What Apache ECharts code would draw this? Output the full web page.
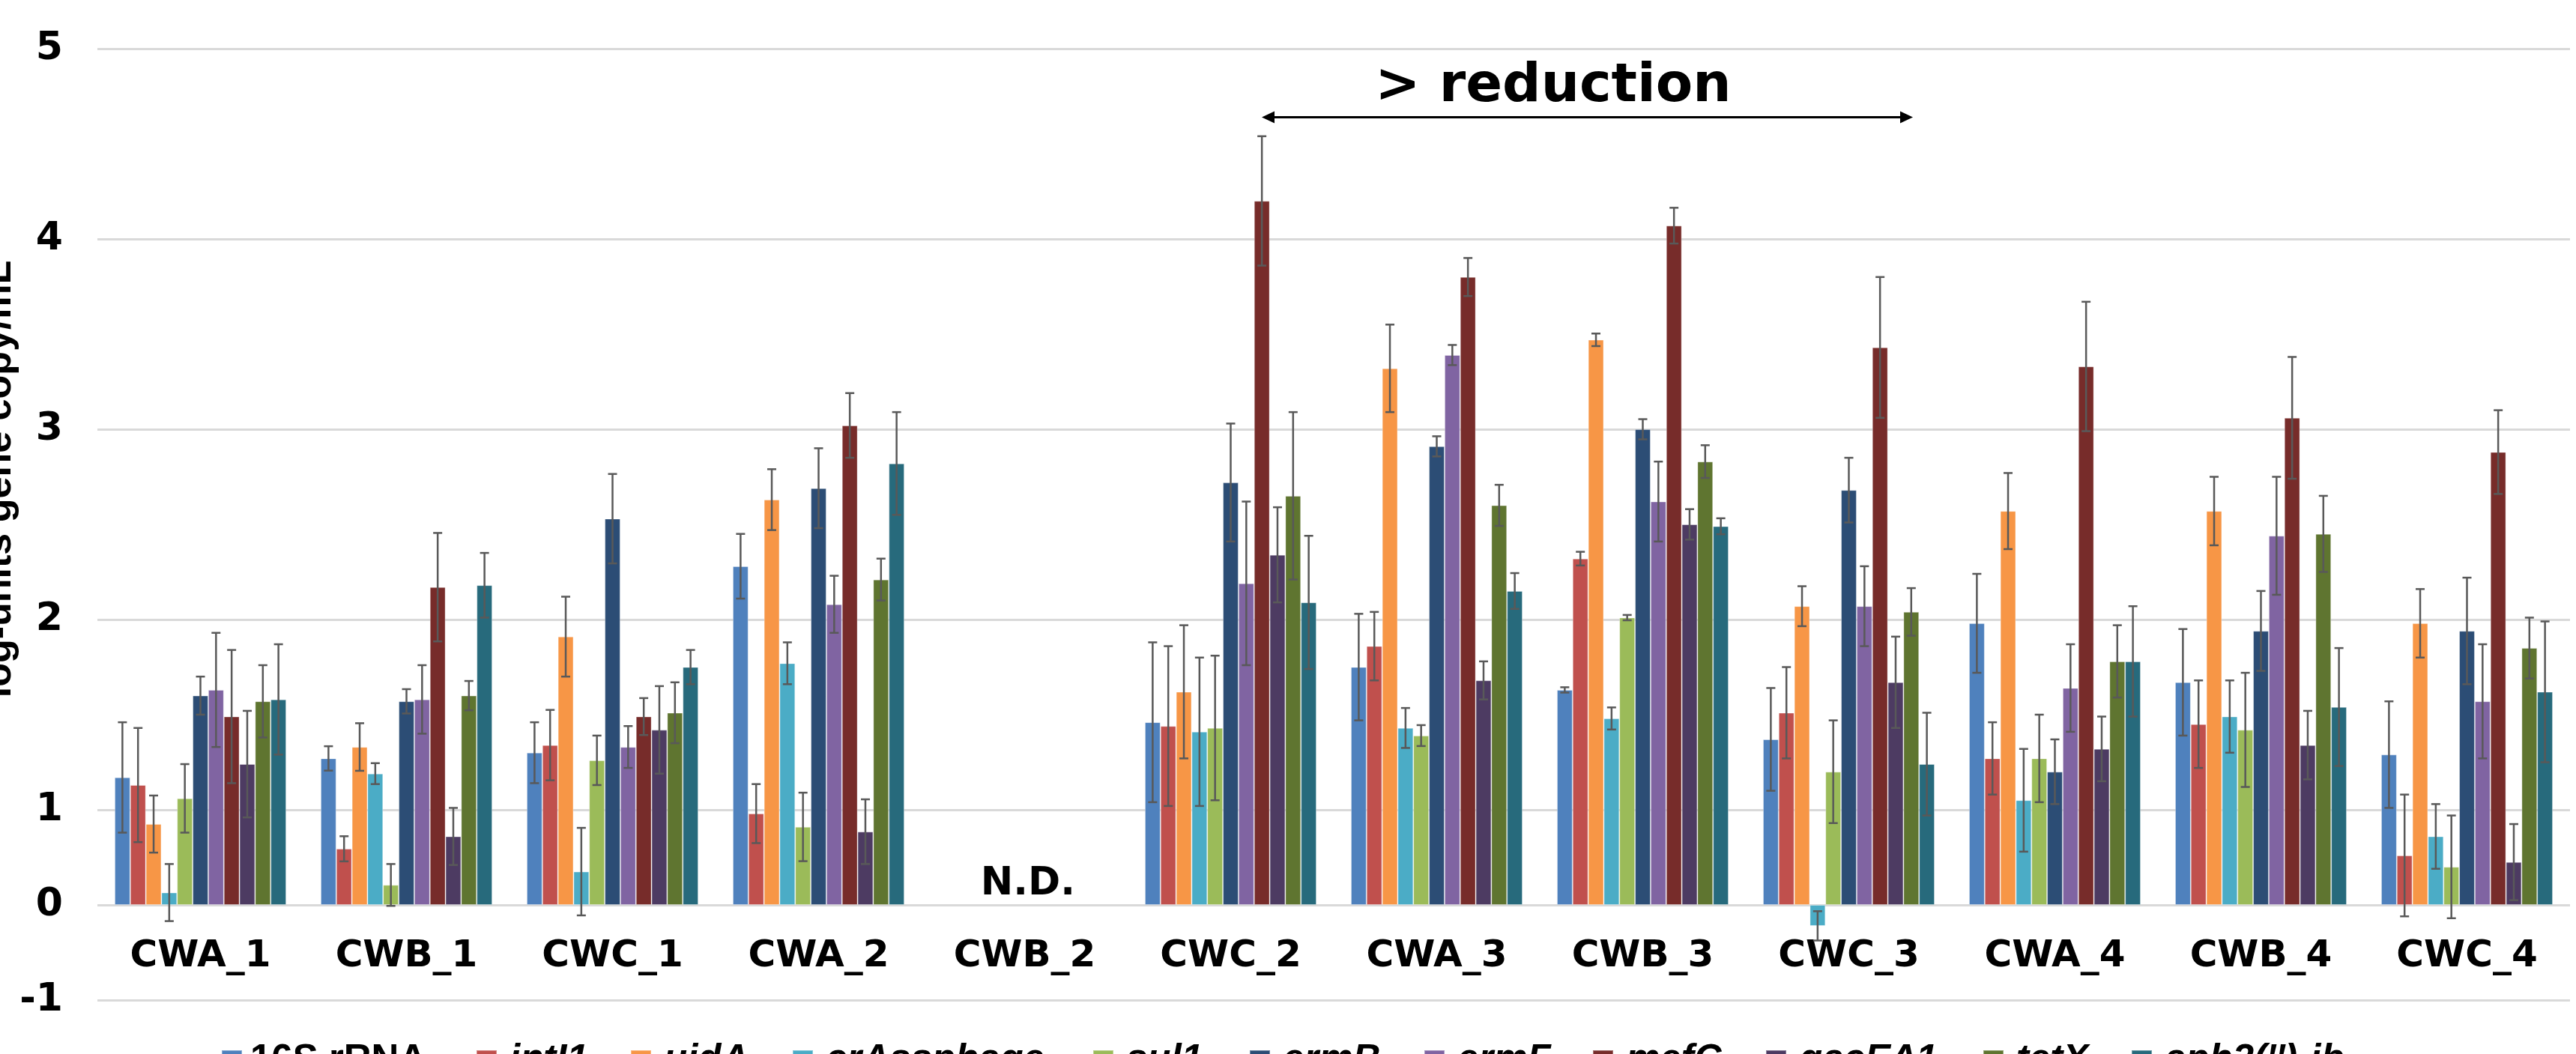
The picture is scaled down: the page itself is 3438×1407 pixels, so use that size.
<!DOCTYPE html>
<html><head><meta charset="utf-8">
<script src="https://cdn.jsdelivr.net/npm/echarts@6.0.0/dist/echarts.min.js"></script>
<style>html,body{margin:0;padding:0;background:#fff;overflow:hidden}#c{width:3438px;height:1407px}</style>
</head><body><div id="c"></div>
<script>
// ---------------- data ----------------
const categories = ['CWA_1','CWB_1','CWC_1','CWA_2','CWB_2','CWC_2','CWA_3','CWB_3','CWC_3','CWA_4','CWB_4','CWC_4'];
const genes = ['16S rRNA','intI1','uidA','crAssphage','sul1','ermB','ermF','mefC','qacEΔ1','tetX',"aph3('')-ib"];
const colors = ['#4F81BD','#C0504D','#F79646','#4BACC6','#9BBB59','#2C4D75','#8064A2','#772C2A','#4D3B62','#5F7530','#276A7C'];
// y tick labels (log-units gene copy/mL) as printed on the axis
const tickLabels = ['-1','0','1','2','3','4','5'];

// mean values, log-units gene copy/mL (null = N.D.)
const v16S   = [1.17,1.27,1.30,2.28,null,1.46,1.75,1.63,1.37,1.98,1.67,1.29];
const vIntI1 = [1.13,0.59,1.34,0.96,null,1.44,1.86,2.32,1.51,1.27,1.45,0.52];
const vUidA  = [0.85,1.33,1.91,2.63,null,1.62,3.32,3.47,2.07,2.57,2.57,1.98];
const vCrAss = [0.13,1.19,0.35,1.77,null,1.41,1.43,1.48,-0.22,1.05,1.49,0.72];
const vSul1  = [1.06,0.21,1.26,0.82,null,1.43,1.39,2.01,1.20,1.27,1.42,0.40];
const vErmB  = [1.60,1.57,2.53,2.69,null,2.72,2.91,3.00,2.68,1.20,1.94,1.94];
const vErmF  = [1.63,1.58,1.33,2.08,null,2.19,3.39,2.62,2.07,1.64,2.44,1.57];
const vMefC  = [1.49,2.17,1.49,3.02,null,4.20,3.80,4.07,3.43,3.33,3.06,2.88];
const vQacE  = [1.24,0.72,1.42,0.77,null,2.34,1.68,2.50,1.67,1.32,1.34,0.45];
const vTetX  = [1.57,1.60,1.51,2.21,null,2.65,2.60,2.83,2.04,1.78,2.45,1.85];
const vAph   = [1.58,2.18,1.75,2.82,null,2.09,2.15,2.49,1.24,1.78,1.54,1.62];

// error bar half-lengths (in log-units of the upper axis part)
const e16S   = [0.29,0.064,0.16,0.17,null,0.42,0.28,0.014,0.27,0.26,0.28,0.28];
const eIntI1 = [0.30,0.066,0.185,0.155,null,0.42,0.18,0.036,0.24,0.19,0.23,0.32];
const eUidA  = [0.15,0.125,0.21,0.16,null,0.35,0.23,0.033,0.105,0.20,0.18,0.18];
const eCrAss = [0.15,0.055,0.23,0.11,null,0.39,0.105,0.058,0.077,0.27,0.19,0.17];
const eSul1  = [0.18,0.11,0.13,0.18,null,0.38,0.055,0.014,0.27,0.23,0.30,0.27];
const eErmB  = [0.10,0.064,0.235,0.21,null,0.31,0.053,0.053,0.17,0.17,0.21,0.28];
const eErmF  = [0.30,0.18,0.11,0.15,null,0.43,0.053,0.21,0.21,0.23,0.31,0.30];
const eMefC  = [0.35,0.285,0.097,0.17,null,0.34,0.10,0.094,0.37,0.34,0.32,0.22];
const eQacE  = [0.28,0.15,0.23,0.17,null,0.25,0.10,0.08,0.24,0.17,0.18,0.20];
const eTetX  = [0.19,0.077,0.16,0.11,null,0.44,0.108,0.086,0.125,0.19,0.20,0.16];
const eAph   = [0.29,0.17,0.09,0.27,null,0.35,0.094,0.042,0.27,0.29,0.31,0.37];

const geneValues = [v16S,vIntI1,vUidA,vCrAss,vSul1,vErmB,vErmF,vMefC,vQacE,vTetX,vAph];
const geneErrors = [e16S,eIntI1,eUidA,eCrAss,eSul1,eErmB,eErmF,eMefC,eQacE,eTetX,eAph];

// annotations: [category index, fraction of band offset, value]
const reductionText = '> reduction';
const reductionArrow = {from:[5, 0.151], to:[8, 0.311], value:4.64};
const reductionLabel = {at:[6, 0.565], value:4.80};
const ndText = 'N.D.';
const ndLabel = {at:[4, 0.016], value:0.22};
const yTitle = 'log-units gene copy/mL';

// ---------------- chart ----------------
// the printed axis is compressed below 1: one unit between -1..1 takes half the room of one unit above 1
function toAxis(v){ return v <= 1 ? v : 2*v - 1; }
const labelAt = {};
tickLabels.forEach(l => { labelAt[toAxis(+l)] = l; });

const GAP = 0.167;
const FONT = 'DejaVu Sans';
const LFONT = 'Liberation Sans';

// legend entry left edges (layout only)
const legendLeft = [295, 635, 841, 1057, 1458, 1667, 1900, 2125, 2356, 2646, 2844];
const legends = genes.map((g, i) => ({
  data: [g], left: legendLeft[i], top: 1390, itemWidth: 27, itemHeight: 27, padding: 0,
  icon: 'rect',
  formatter: n => '{t|' + n + '}',
  textStyle: {color: '#000', fontSize: 51, fontFamily: LFONT, fontWeight: 'bold',
    rich: {t: {fontFamily: LFONT, fontWeight: 'bold', fontStyle: i === 0 ? 'normal' : 'italic',
               fontSize: 51, color: '#000', padding: [0, 0, 0, i === 0 ? 6 : 12]}}}
}));

const barSeries = genes.map((g, i) => {
  const s = {
    name: g, type: 'bar', barGap: '0%', barCategoryGap: (GAP*100)+'%',
    itemStyle: {color: colors[i], borderColor: 'rgba(255,255,255,0.35)', borderWidth: 1},
    data: geneValues[i].map(v => v == null ? '-' : toAxis(v)),
    z: 2
  };
  if (i === 0) {
    s.markLine = {
      silent: true, symbol: ['none','none'], z: 0, animation: false,
      label: {show: false},
      lineStyle: {color: '#d9d9d9', width: 3, type: 'solid'},
      emphasis: {disabled: true},
      data: tickLabels.map(l => ({yAxis: toAxis(+l)}))
    };
  }
  return s;
});

const errData = [];
geneValues.forEach((vals, gi) => {
  vals.forEach((v, ci) => {
    if (v == null) return;
    const c = toAxis(v), e = 2 * geneErrors[gi][ci];
    errData.push([ci, gi, c - e, c + e]);
  });
});

const errSeries = {
  type: 'custom', name: 'err', z: 5, silent: true,
  encode: {x: 0, y: [2, 3]},
  data: errData,
  renderItem(params, api) {
    const c = api.value(0), g = api.value(1);
    const lo = api.coord([c, api.value(2)]);
    const hi = api.coord([c, api.value(3)]);
    const band = api.size([1, 0])[0];
    const groupW = band * (1 - GAP);
    const bw = groupW / genes.length;
    const x = lo[0] - groupW / 2 + bw * (g + 0.5);
    const cap = 6;
    const st = {stroke: '#595959', lineWidth: 2.5};
    return {type: 'group', children: [
      {type: 'line', shape: {x1: x, y1: hi[1], x2: x, y2: lo[1]}, style: st},
      {type: 'line', shape: {x1: x - cap, y1: hi[1], x2: x + cap, y2: hi[1]}, style: st},
      {type: 'line', shape: {x1: x - cap, y1: lo[1], x2: x + cap, y2: lo[1]}, style: st}
    ]};
  }
};

const chart = echarts.init(document.getElementById('c'), null, {renderer: 'canvas'});
chart.setOption({
  animation: false,
  backgroundColor: '#ffffff',
  grid: {left: 130, right: 8, top: 65, bottom: 72, containLabel: false, outerBoundsMode: 'none'},
  xAxis: {
    type: 'category', data: categories,
    axisLine: {show: false}, axisTick: {show: false},
    axisLabel: {margin: -83, color: '#000', fontFamily: FONT, fontWeight: 'bold', fontSize: 50}
  },
  yAxis: {
    type: 'value', min: -1, max: 9, interval: 1,
    splitLine: {show: false}, axisLine: {show: false}, axisTick: {show: false},
    axisLabel: {margin: 46, color: '#000', fontFamily: FONT, fontWeight: 'bold', fontSize: 52,
      formatter: v => (labelAt[v] !== undefined ? labelAt[v] : '')}
  },
  legend: legends,
  series: barSeries.concat([errSeries])
});

// annotations positioned through the axes
function px(cat, frac, value) {
  const p0 = chart.convertToPixel({xAxisIndex: 0, yAxisIndex: 0}, [cat, toAxis(value)]);
  const p1 = chart.convertToPixel({xAxisIndex: 0, yAxisIndex: 0}, [cat + 1, toAxis(value)]);
  return [p0[0] + frac * (p1[0] - p0[0]), p0[1]];
}
const a0 = px(reductionArrow.from[0], reductionArrow.from[1], reductionArrow.value);
const a1 = px(reductionArrow.to[0], reductionArrow.to[1], reductionArrow.value);
const rl = px(reductionLabel.at[0], reductionLabel.at[1], reductionLabel.value);
const nd = px(ndLabel.at[0], ndLabel.at[1], ndLabel.value);
const grid = chart.getModel().getComponent('grid').coordinateSystem.getRect();
const ah = 17, aw = 8;
chart.setOption({
  graphic: [
    {type: 'line', shape: {x1: a0[0] + ah - 2, y1: a0[1], x2: a1[0] - ah + 2, y2: a1[1]}, style: {stroke: '#000', lineWidth: 3}, z: 10},
    {type: 'polygon', shape: {points: [[a0[0], a0[1]], [a0[0] + ah, a0[1] - aw], [a0[0] + ah, a0[1] + aw]]}, style: {fill: '#000'}, z: 10},
    {type: 'polygon', shape: {points: [[a1[0], a1[1]], [a1[0] - ah, a1[1] - aw], [a1[0] - ah, a1[1] + aw]]}, style: {fill: '#000'}, z: 10},
    {type: 'text', x: rl[0], y: rl[1], z: 10, style: {text: reductionText, fill: '#000', font: 'bold 72px "DejaVu Sans"', align: 'center', verticalAlign: 'middle'}},
    {type: 'text', x: nd[0], y: nd[1], z: 10, style: {text: ndText, fill: '#000', font: 'bold 52px "DejaVu Sans"', align: 'center', verticalAlign: 'middle'}},
    {type: 'text', x: 0, y: grid.y + grid.height * 0.4523, rotation: Math.PI / 2, z: 10,
      style: {text: yTitle, fill: '#000', font: 'bold 52px "Liberation Sans"', align: 'center', verticalAlign: 'middle'}}
  ]
});
</script></body></html>
